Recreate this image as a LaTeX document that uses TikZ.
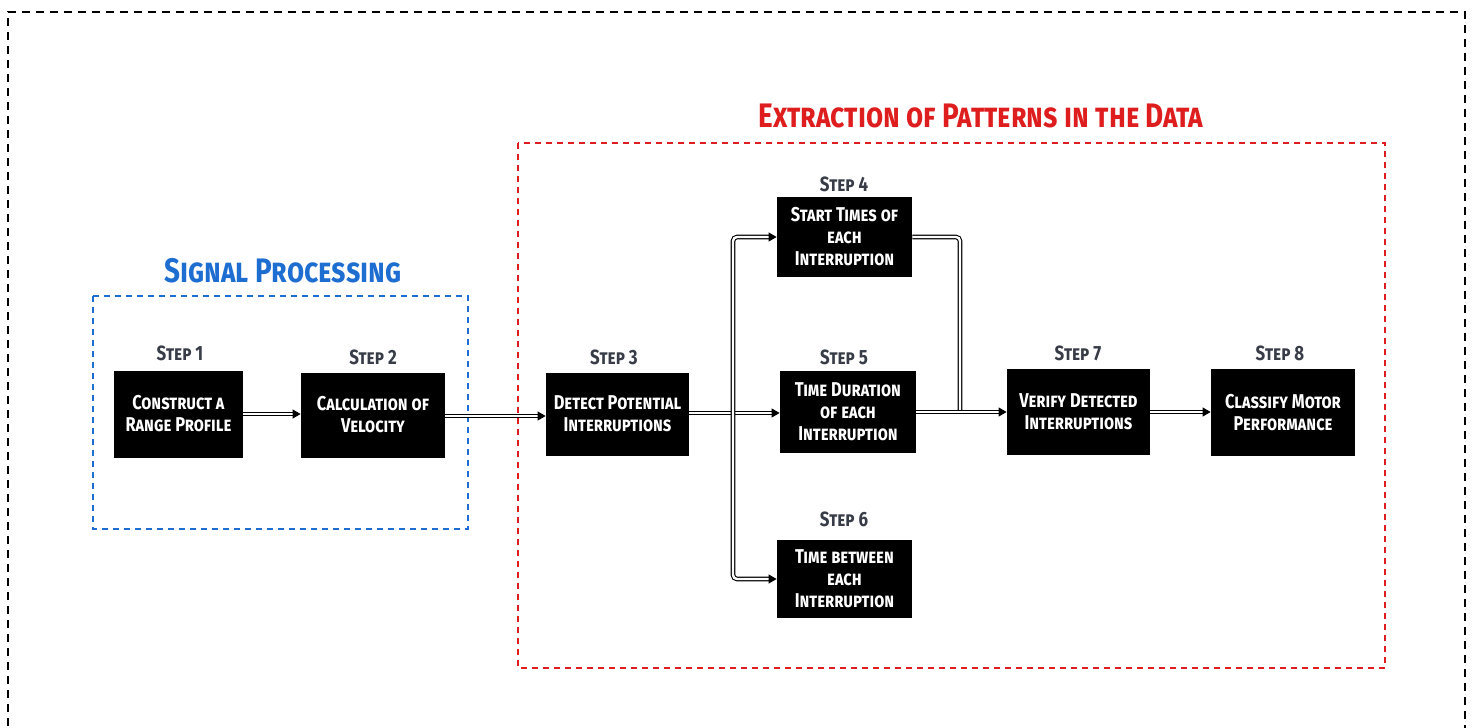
\documentclass[tikz,border=0pt]{standalone}
\usepackage{fontspec}
\usetikzlibrary{arrows.meta}
\newfontfamily\boxfont{Fira Sans}[FakeStretch=0.82]
\definecolor{spblue}{RGB}{30,110,210}
\definecolor{exred}{RGB}{222,30,30}
\definecolor{steplab}{RGB}{55,60,70}
\tikzset{
  stepbox/.style={fill=black, text=white, align=center, inner sep=0pt,
    font=\boxfont\bfseries\scshape\fontsize{10}{11}\selectfont},
  steplabel/.style={text=steplab, inner sep=0pt,
    font=\boxfont\bfseries\scshape\fontsize{10.3}{12}\selectfont},
  grouptitle/.style={inner sep=0pt, font=\boxfont\bfseries\scshape\fontsize{17}{19}\selectfont},
  dbl/.style={draw=black, line width=0.55pt, double=white, double distance=1.2pt,
    -{Triangle[length=4pt,width=4.5pt]}},
  dblplain/.style={draw=black, line width=0.55pt, double=white, double distance=1.2pt},
}
\begin{document}
\begin{tikzpicture}[x=0.5pt,y=-0.5pt]
\useasboundingbox (0,0) rectangle (1475,727);
% outer frame
\draw[black, line width=0.8pt, dash pattern=on 4pt off 3pt] (8,740) -- (8,12) -- (1465,12) -- (1465,740);
% groups
\draw[spblue, line width=0.8pt, dash pattern=on 3pt off 2.5pt] (93,296) rectangle (468,529);
\node[grouptitle, text=spblue] (t1) at (283,271) {Signal Processing};
\draw[exred, line width=0.8pt, dash pattern=on 3pt off 2.5pt] (518,143) rectangle (1385,668);
\node[grouptitle, text=exred] (t2) at (981,116) {Extraction of Patterns in the Data};
% boxes
\node[stepbox, minimum width=129*0.5pt, minimum height=87*0.5pt] (s1) at (178.5,414) {Construct a\\Range Profile};
\node[stepbox, minimum width=144*0.5pt, minimum height=85*0.5pt] (s2) at (373,415) {Calculation of\\Velocity};
\node[stepbox, minimum width=143*0.5pt, minimum height=83*0.5pt] (s3) at (617.5,414) {Detect Potential\\Interruptions};
\node[stepbox, minimum width=135*0.5pt, minimum height=79*0.5pt] (s4) at (844.5,237) {Start Times of\\each\\Interruption};
\node[stepbox, minimum width=136*0.5pt, minimum height=82*0.5pt] (s5) at (848,412) {Time Duration\\of each\\Interruption};
\node[stepbox, minimum width=135*0.5pt, minimum height=78*0.5pt] (s6) at (844.5,579) {Time between\\each\\Interruption};
\node[stepbox, minimum width=143*0.5pt, minimum height=86*0.5pt] (s7) at (1078.5,412) {Verify Detected\\Interruptions};
\node[stepbox, minimum width=144*0.5pt, minimum height=87*0.5pt] (s8) at (1283,412.5) {Classify Motor\\Performance};
% step labels
\node[steplabel] (l1) at (180,353) {Step 1};
\node[steplabel] (l2) at (373,357) {Step 2};
\node[steplabel] (l3) at (614,357) {Step 3};
\node[steplabel] (l4) at (844,184) {Step 4};
\node[steplabel] (l5) at (844,357) {Step 5};
\node[steplabel] (l6) at (844,519) {Step 6};
\node[steplabel] (l7) at (1078,353) {Step 7};
\node[steplabel] (l8) at (1280,353) {Step 8};
% connectors
\coordinate (br) at (733,413);
\coordinate (jn) at (960,412);
\draw[dbl] (s1.east |- 0,414) -- (s2.west |- 0,414);
\draw[dbl] (s2.east |- 0,416) -- (s3.west |- 0,416);
\draw[dbl] (s3.east |- 0,413) -- (s5.west |- 0,413);
\draw[dbl, rounded corners=2pt] (br) |- (s4.west);
\draw[dbl, rounded corners=2pt] (br) |- (s6.west);
\draw[dblplain, rounded corners=2pt] (s4.east) -| (jn);
\draw[dbl] (s5.east |- 0,412) -- (s7.west |- 0,412);
\draw[dbl] (s7.east |- 0,412) -- (s8.west |- 0,412);
\end{tikzpicture}
\end{document}
